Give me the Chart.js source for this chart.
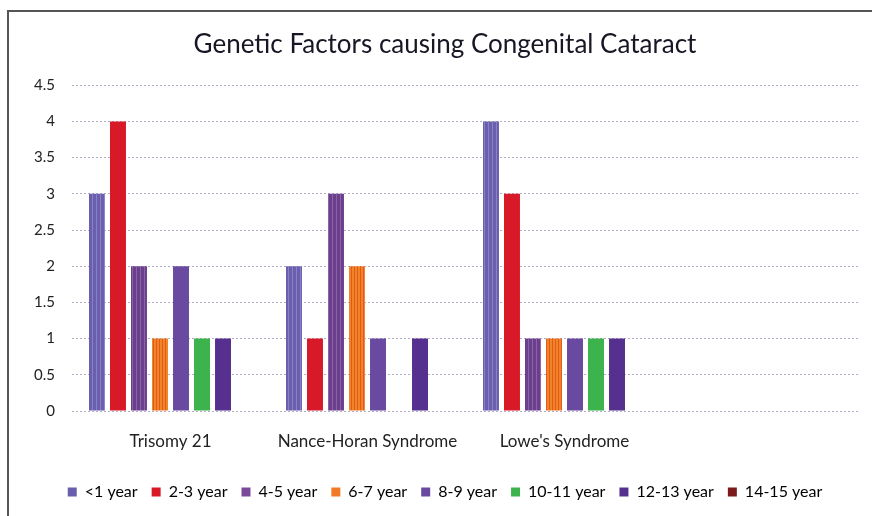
<!DOCTYPE html>
<html>
<head>
<meta charset="utf-8">
<script src="https://cdn.jsdelivr.net/npm/chart.js@4.4.0/dist/chart.umd.min.js"></script>
<style>
  html, body { margin: 0; padding: 0; background: #fff; overflow: hidden; }
  #wrap { position: relative; width: 872px; height: 516px; }
  #frame { position: absolute; left: 7px; top: 10px; width: 900px; height: 600px;
           border-top: 2px solid #555; border-left: 2px solid #555; }
  canvas { position: absolute; left: 0; top: 0; }
</style>
</head>
<body>
<div id="wrap">
  <div id="frame"></div>
  <canvas id="chart" width="872" height="516"></canvas>
</div>
<script>
// data
const categories = ['Trisomy 21', 'Nance-Horan Syndrome', "Lowe's Syndrome", ''];
const ageGroups = ['<1 year', '2-3 year', '4-5 year', '6-7 year', '8-9 year', '10-11 year', '12-13 year', '14-15 year'];
const lt1 = [3, 2, 4, 0];
const y2to3 = [4, 1, 3, 0];
const y4to5 = [2, 3, 1, 0];
const y6to7 = [1, 2, 1, 0];
const y8to9 = [2, 1, 1, 0];
const y10to11 = [1, 0, 1, 0];
const y12to13 = [1, 1, 1, 0];
const y14to15 = [0, 0, 0, 0];
const yTicks = [0, 0.5, 1, 1.5, 2, 2.5, 3, 3.5, 4, 4.5];

// striped fills like the original
function stripes(base, line, step) {
  const c = document.createElement('canvas');
  c.width = step; c.height = 4;
  const g = c.getContext('2d');
  g.fillStyle = base; g.fillRect(0, 0, step, 4);
  g.fillStyle = line; g.fillRect(0, 0, 1, 4);
  return g.createPattern(c, 'repeat');
}

const colors = [
  stripes('#6a5eae', '#8a80c6', 4),
  '#d81a28',
  stripes('#6c3f8e', '#8c62a6', 4),
  stripes('#f08528', '#e4581c', 3),
  '#6a4aa0',
  '#3cb34c',
  '#55308e',
  '#7a1a1c',
];
const legendColors = ['#6a5eae', '#d81a28', '#7a4a98', '#f07a26', '#6a4aa0', '#3cb34c', '#55308e', '#7a1a1c'];
const series = [lt1, y2to3, y4to5, y6to7, y8to9, y10to11, y12to13, y14to15];

const font = "Lato, 'Open Sans', sans-serif";

const ctx = document.querySelector('#chart');
new Chart(ctx, {
  type: 'bar',
  data: {
    labels: categories,
    datasets: series.map((d, i) => ({
      label: ageGroups[i],
      data: d,
      backgroundColor: colors[i],
      borderWidth: 0,
      categoryPercentage: 0.853,
      barPercentage: 0.76,
    })),
  },
  options: {
    responsive: false,
    animation: false,
    layout: { padding: { left: 30, right: 12, top: 20, bottom: 6 } },
    plugins: {
      title: {
        display: true,
        text: 'Genetic Factors causing Congenital Cataract',
        color: '#161624',
        font: { family: font, size: 26, weight: 'normal' },
        padding: { top: 9, bottom: 25 },
      },
      legend: {
        position: 'bottom',
        labels: {
          color: '#222',
          font: { family: font, size: 16 },
          boxWidth: 9,
          boxHeight: 9,
          padding: 14,
          generateLabels: (chart) => ageGroups.map((g, i) => ({
            text: g,
            fillStyle: legendColors[i],
            strokeStyle: legendColors[i],
            lineWidth: 0,
            datasetIndex: i,
          })),
        },
      },
      tooltip: { enabled: false },
    },
    scales: {
      x: {
        grid: { display: false, drawTicks: false },
        border: { display: false },
        afterFit: (s) => { s.height = 59; },
        ticks: { color: '#222', font: { family: font, size: 17 }, padding: 20 },
      },
      y: {
        min: 0,
        max: 4.5,
        afterBuildTicks: (s) => { s.ticks = yTicks.map(v => ({ value: v })); },
        afterFit: (s) => { s.width = 42; },
        grid: { color: '#b4acc8', drawTicks: false, lineWidth: 1 },
        border: { display: false, dash: [2, 2] },
        ticks: { color: '#222', font: { family: font, size: 15 }, padding: 17, callback: (v) => String(v) },
      },
    },
  },
});
</script>
</body>
</html>
